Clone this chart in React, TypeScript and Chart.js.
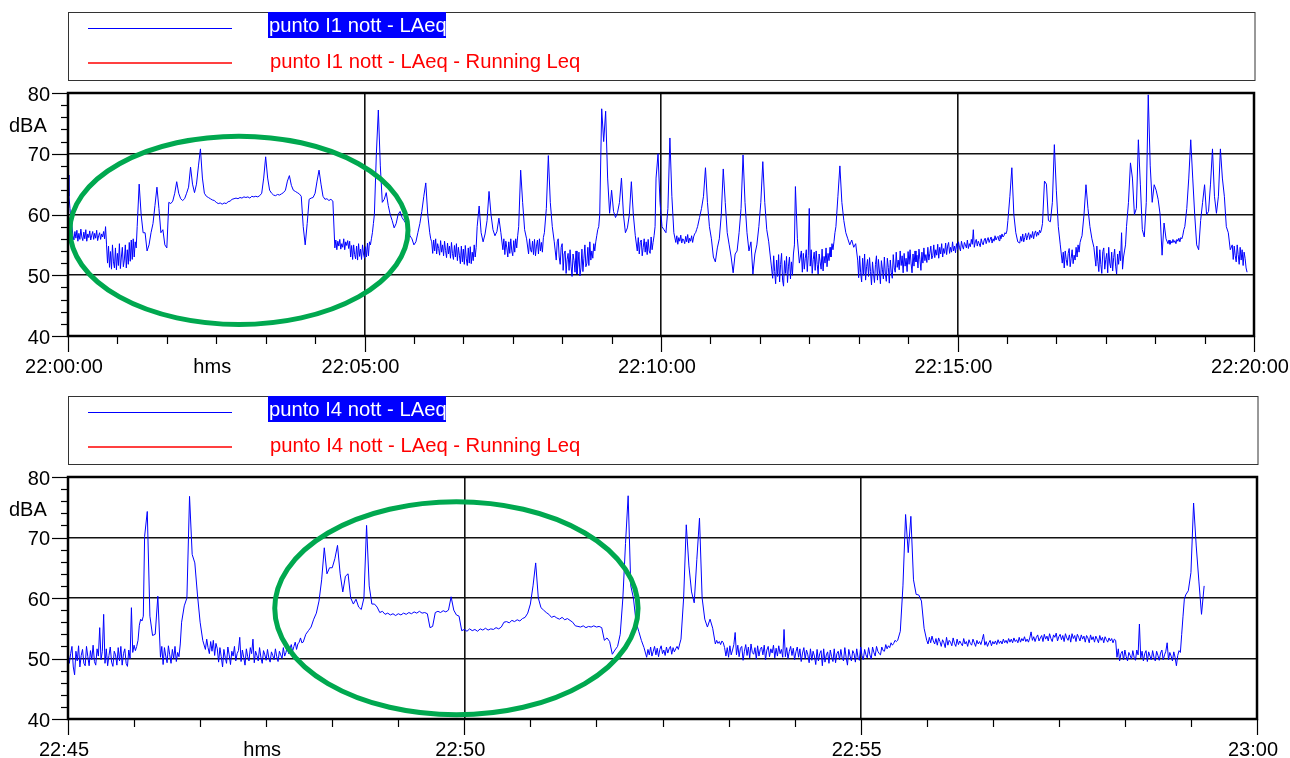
import React, { useEffect, useRef } from 'react';
import { Chart, registerables } from 'chart.js';

Chart.register(...registerables);

// ---------- punto I1 nott - LAeq (dBA), from 22:00:00 ----------
// Each segment is read off the trace; quiet/noisy parts at 1 s, event parts at 2 s.
const I1_S01 = [66.5,63,61,59,58,56.5,55.8,57.2,56.1,57.4,55.6,56.9,55.9,57.6,56.3,55.7,57.1,56,57.5,55.6,56.8,56.2,57.3,55.8,56.6,57.2,55.9,56.9,56.1,57.4,55.7,56.5,57,55.9,56.8,56.3,57.2,56,58,55,52,54.8,51.3,53.9,51,55,52.2,51.2,54.5,50.9,53.6,51.6,55.2,51.1,53,54.6,51.4,52.5,55,51.2,54.2,51.8,55.4,52.3,55.8,52.6,56,53,55.5,54.5];
const I1_S02 = [58,65,60,57,57,54,55,57,58.5,61.5,64.5,61,57,57.5,55,54.5,62,61.8,62.2,63.5,65.4,63.5,62.6,62.3,62.6,63.5,64.5,67.8,65,63.6,65,68,70.8,66,63.5,63,62.8,62.6,62.4,62.3,62,61.8,61.9,61.7,61.9,61.8,62.1,62.2,62.5,62.6,62.7,62.6,62.8,62.7,62.9,62.8,62.9,62.7,63,62.9,63,62.9,63.1,63.5,66,69.5,66,64,63.5,63.2,63.1,63.3,63.2,63.4,63.6,64,65.5,66.4,64.8,64,63.8,63.6,63.4,63,58,55,58.5,62.5,62.7,62.8,63.5,65.5,67.3,65,63,62.5,62.6,62.3,62.5,62.2];
const I1_S03 = [54.5,55.8,54.2,55.6,54.8,55.9,54.3,55.2,54.6,56,54.2,55.5,54.9,55.7,54.4,55.6,53,54.9,52.6,55,53.4,52.7,54.8,52.5,55.2,53.1,54.3,52.6,55,53.5,52.8,54.7,53,55.3,53.2,55.5,55,56,57,58.5];
const I1_S04 = [60,70,77.2,68,62,62.5,63.6,61.5,60,59,57.8,58.5,60,60.5,59.5,59,58.5,58,56.5,56,55,55.5,57,58.5,60.5,63,65.2,60];
const I1_S05 = [57,56,55.5,53.6,55.8,54,56,53.5,55.2,54.4,53.3,55.7,53.8,55,53.2,55.6,54.1,52.9,55.3,53.5,54.8,52.8,55.4,53.6,52.6,54.9,53,55.2,52.4,54.6,53.3,51.9,54.8,52.2,54.3,51.8,54.9,52.7,51.6,54.5,52,54.7,51.9,53.8,52.4,55,53,54.6];
const I1_S06 = [58,61.4,57,55.5,56.8,59,63.8,60,57.5,56.5,57.2,59.4,57];
const I1_S07 = [54.2,56,53.4,55.6,54.5,53,55.5,53.6,56,54,53.2,55.7,53.8,56,54.5,56.5];
const I1_S08 = [58,67.3,62,57.5,56];
const I1_S09 = [53.5,56,54.2,53.8,55.6,53.4,55.9,53.2,54.8,55.8,53.5,56,54,55.4,53.8,56.2];
const I1_S10 = [57,61,69.7,62,58];
const I1_S11 = [55.5,54,52.5,55.5,56,53,51.8,54.6,55.2,50.8,53.5,54,50.3,52.6,53.6,50.8,54.2,51.5,49.8,53.5,52.4,50.5,54,50.2,51.7,53.8,49.9,51.2,54.3,50.6,52.8,55,51.4,52,54.6,51.6,55.5,52.5,54,52.8,55.2,54,55.5,56.5,57.5,58];
const I1_S12 = [60,77.4,72,77,66,60.2,64,60.5,59.5,60.3,62,66,60,57,57.8,60,65.4,60,56.5];
const I1_S13 = [54,56.2,53.5,55.4,55.8,53.2,54.6,56,53.8,55.5,53.4,55.9,54,53.6,56.3,54.2,55.4,56.5,58];
const I1_S14 = [66,70,62,58,57.5,57,61,72.6,63,57];
const I1_S15 = [55.4,56.5,55.1,56.2,55.6,56.6,55.3,56,55.8,55.2,56.4,55.5,56.7,55.3,56.1,55.6,56.5,55.4,56.3,56.8,57,57.5];
const I1_S16 = [58,59.5,61,63,67.7,62,58,56,53,52.2,54.5,56,60,67.5];
const I1_S17 = [62,57,55,53,50.4,53.5,54,57,61,69.8,62,57,54,55.5,50.2,53.5,55,58,62,68.7,62,57.5,55.5,52.5];
const I1_S18 = [49.5,53.2,50.6,48.6,52.5,49.8,53.4,48.9,51.8,53.6,49.2,48.2,52.4,50.3,53.1,48.8,51.5,53,49.4,52.2,50,53.5,55];
const I1_S19 = [64.6,56,52];
const I1_S20 = [54,50.5,53.6,51,52.8,54.2,50.6,53.2,61,51.5,54.2,50.3,52.6,53.8,50.8,54,51.8,50.2,53.5,52.2,51,54.3,50.7,53.1,52,54.5,51.4,53.6,52.4,54.6,53,55.2,54.2,55.5,57];
const I1_S21 = [58,63,68,62,59,57,56,55,55.8,54.6,55.2];
const I1_S22 = [52.5,49.6,53.2,50.4,48.9,52.8,50,53.5,49.2,51.4,52.6,49.8,52.9,50.6,48.4,52.2,50.3,48.8,51.8,53.2,49.2,52.6,50.7,48.6,52.4,51,49.4,53,50.2,49,52.8,51.3,48.7,52.5,50.5,49.5,53.4,51.2,50.5,53.8,51.3,52.5,50.9,54,51.6,53.2,50.4,53.6,51.5,52.8,50.6,53.9,51.8,54.2,52,50.4,53.5,51.5,54,52.2,53.3,51.2,54.3,52.6,50.8,53.8,52,54.5,52.4,53.4,52.1,54.6,52.5,53.6,54.8,52.7,53.2,55,52.9,54.2,53.3,55.1,52.8,54.6,53.5,55.2,53,54.4,53.6,55.3,53.4,54.8,55.4,53.6,54.6,53.8,55.5,54,54.8,53.7,55.2];
const I1_S23 = [54.2,55.5,54.6,54,55.6,54.8,54.3,55.4,55,54.5,55.8,54.4,55.2,54.7,55.9,55.1,57.5,54.6,55.5,55.9,54.8,55.6,55.2,54.7,56,55.3,55,55.8,56.1,55.2,55.8,56.2,55.4,55.9,56.3,55.3,56,55.6,56.5,55.8,56.2,56.4,55.7,56.6,56,56.8,56.3,56.5,57,56.8,57.3];
const I1_S24 = [59,63,67.7,60,57,55.5];
const I1_S25 = [55.3,56.4,55.6,56.8,55.5,56.2,56.9,55.8,56.5,57,55.9,56.7,56.2,57.2,56,56.9,57.3,56.4,57.1,56.6,57.4,57,57.6];
const I1_S26 = [58.5,65.5,65,59,58.8,62,71.5,64,58,55];
const I1_S27 = [52,53.8,51.2,54,52.6,51.6,53.6,54.4,51.4,52.8,54.2,51.9,53.3,52.5,54.6,53,55,53.8,55.4,56];
const I1_S28 = [56.5,60,64.9,61,58,56,54.6];
const I1_S29 = [51.5,54.8,52.3,50.6,54.2,51.8,50.3,53.9,54.5,51,52.6,53.6,50.4,54.6,52,51.2,53.8,50.7,52.9,54.3,51.5,50.2,53.5,51.8,54,52.4,57,51,53,54,55];
const I1_S30 = [58,62,68.5,66,60,61,72.3,65,57.5,56.3,62,79.7,68,62,64.9];
const I1_S31 = [64,62.5,60,53.3,58.6,56];
const I1_S32 = [55.2,55.8,55.1,55.6,55.3,55.9,55.4,55.7,55.2,55.9,55.6,56.1,55.5,56.2,56,56.6,57.5];
const I1_S33 = [58,61,66,72.3,66,60,55,54.2,59,62,64.9,60,60.5,65,70.8,63,60.2,63,70.8,66,63,58,57,54.2];
const I1_S34 = [55,52.6,54.8,53.2,52.2,55,53.4,51.8,54.6,52.5,54.2,51.6,53.8,52.8,51.2,50.5];

// ---------- punto I4 nott - LAeq (dBA), from 22:45:00 ----------
const I4_S01 = [51.5,49.2,50.8,52,48.6,47.3,51.2,49.6,52.1,48.6,50.5,51.5,49.2,48.8,52,50.3,48.8,51.3,49.8,52.2,49.5,48.9,51.6,50.4,55.1,49.8,51.2,57.3,49.2,51.6,48.8,50.5,51.9,49.4,48.7,51.2,50.6,48.9,51.8,49.6,52,48.9,50.8,51.6,49.2,48.7,51.4,50,58.4,51,52.2,51.3,52,53,55.5,56.5,56.2,57];
const I4_S02 = [70.2,74.3,57,53.8,54,60.3];
const I4_S03 = [50.2,52,49,51.8,50.4,49.3,52.1,50.6,49.2,51.5,50,52,49.5,51,50.3,52.4];
const I4_S04 = [56,58.7,60,76.8,67.2,65.8,60.5,56,53];
const I4_S05 = [51.5,53.2,51.8,50.8,52.8,51.2,53,50.5,52.5,51.6,49.4,51.8,50.3,48.6,51.5,50.2,49.2,51.9,50.6,49,51.2,50.4,52,49.6,50.8,51.3,53.5,49.5,51.4,50.2,48.9,51.6,50.3,49.6,51.8,50.8,53.2,49.3,51.2,50.5,49.6,51.8,50.2,49.2,51.3,50.6,49.7,51.5,50.1,49.4,51.1,50.5,49.8,51.6,50.3,49.5,51.2,50.6,50,51.8,50.4,51,52,50.8,51.6,52.3,51.2,52,52.7,51.5,52.4,52.7,53.4,52.6];
const I4_S06 = [52.7,54,54.6,55.2,56.5,57.5,59.5,63,68.3,64,65,65,66.5,68.7,64,61,63.6,64,60,59,59.8,58.5,58.1,60,72,62,59,59,58.5,57.6,57.8,57.3,57.5,57.2,57.4,57.1,57.4,57.2,57.5,57.3,57.6,57.4,57.7,57.5,57.8,57.5,57.6,57.4,55.1,55.3,57.6,57.8,57.6,57.9,57.7,58,60.2,58,57.2,57,54.6];
const I4_S07 = [54.8,54.5,54.9,54.6,54.8,54.5,54.9,54.7,55,54.7,54.9,54.8,55.1,54.9,55.2,56,56.1,55.9,56.3,56.1,56.4,56.2,56.6,56.8,57.5,59,62,65.8,60,58.4,58,57.6,57.3,56.8,57,56.7,56.5,56.8,56.4,56.6,56.3,56,55.4,55.3,55.2,55.4,55.1,55.3,55.2,55.4,55.2,55.3,55.1,53,53.4,52.8,50.7,51.4,52,54];
const I4_S08 = [60,69,76.9,62,60,56,54.5,53,51.8];
const I4_S09 = [50.2,51.5,50.6,51.9,50.4,51.2,52,50.6,51.7,50.3,51.5,52.1,50.8,51.4,50.5,51.9,50.9,51.6,52,50.7,51.8,51.1,51.6,52,51.5,52.4];
const I4_S10 = [53.2,60,72.1,65.3,61,59.2,66.4,73.2,60,56.5,55.2,56.5,55];
const I4_S11 = [52.4,53,52.5,52.8,52.3,52.9,52.6,51.8,50.4,51.8,50.2,52.1,50.6,51.4,52.3,54.3,50.6,52.2,50.3,51.7,52,49.7,51.2,52.3,50.5,51.9,50.1,52.4,51,50.7,51.8,49.9,52.1,50.4,51.5,51.9,50.6,52.2,49.8,51.4,52,50.3,51.6,50.9,52.2,50.1,51.7,50.4,52.1,50.8,51.5,50.2,54.8,50.3,51.8,50,51.2,52,50.5,51.7,49.8,51.1,51.9,50.2,51.6,49.5,50.9,51.8,49.9,51.4,50.6,49.3,51.6,49.7,51.2,50.4,49,51.5,49.6,50.8,51.3,48.8,51.6,49.4,50.6,51.1,49.2,51.4,50.3,49.5,51.6,49.3,50.8,51.2,49.8,51.5,50.1,49.6,51.8,50.2,48.9,51.5,50.4,49.6,51.3,50.8,49.4,51.6,50.2,49.7,51.9,50.5,49.8,51.5,50.6,50.1,51.8,50.6,49.9,51.9,51,50.4,52,51.2,50.8,50.6,51.9,51.3,51.2,52.3,51.6,52.1,51.8,52.6,52.2,52.5,53,52.8];
const I4_S12 = [53,54.5,62,73.8,67.5,73.5,63,60.6,60.5,59.5,55];
const I4_S13 = [53,52.4,53.5,52.6,53.7,52.9,52.4,53.3,52.2,53.4,52.8,52,53.1,52.6,51.8,53.5,52.2,53,52.7,52.1,53.4,52.5,52,53.2,52.3,52.9,52.5,52.1,53.3,52.4,52.8,52,53.1,52.5,52.2,53.2,52.6,52,53,52.4,52.8,52.3,53.1,54,52.2,52.8,52,52.6,53,52.1,52.8,52.4,52.9,52.3,53.1,52.5,52.9,52.4,53.2,52.6,53,52.5,53.3,52.7,53.2,52.6,53.4,52.8,53.1,52.6,53.5,52.7,53.3,52.9,53.6,52.8,53.2,52.7,53.4,54.4,53,53.6,52.8,53.5,53.9,52.9,53.4,53.8,52.8,54,53.2,53.7,52.9,54.1,53.3,52.8,53.9,53.5,54.2,52.9,53.6,54,53.1,53.8,52.8,54.1,53.4,53,53.9,52.7,54.1,53.3,53.8,52.8,54,53.5,52.9,53.9,53.2,53.7,52.7,53.8,53.4,52.6,53.9,53.1,53.6,52.7,53.7,53.2,52.6,53.8,53,53.5,52.6,53.6,53.1,52.7,53.4,52.9,53.3,52.6,53.2,53];
const I4_S14 = [50.2,51.6,49.6,50.8,51.2,49.8,51.4,50.3,49.6,51,50.5,49.9,51.3,50.2,49.7,51.4,50.6,55.7,50.1,51.2,49.6,50.8,51.3,49.5,51.1,50.4,49.8,51.3,50.2,49.6,51.2,50.5,49.7,50.9,51.4,49.8,50.6,51.2,52.6,49.8,51,50.4,49.6,51.1,50.2,48.8,50.5,51.3,51,54,57,59.8];
const I4_S15 = [60.5,61.2,64.2,75.7,68.6,62.8,57.3,62];

// [sampling step in s, readings]
const I1_SEGMENTS: [number, number[]][] = [
  [1, I1_S01], [2, I1_S02], [1, I1_S03], [2, I1_S04], [1, I1_S05], [2, I1_S06], [1, I1_S07],
  [2, I1_S08], [1, I1_S09], [2, I1_S10], [1, I1_S11], [2, I1_S12], [1, I1_S13], [2, I1_S14],
  [1, I1_S15], [2, I1_S16], [2, I1_S17], [1, I1_S18], [2, I1_S19], [1, I1_S20], [2, I1_S21],
  [1, I1_S22], [1, I1_S23], [2, I1_S24], [1, I1_S25], [2, I1_S26], [1, I1_S27], [2, I1_S28],
  [1, I1_S29], [2, I1_S30], [2, I1_S31], [1, I1_S32], [2, I1_S33], [1, I1_S34],
];
const I4_SEGMENTS: [number, number[]][] = [
  [1, I4_S01], [2, I4_S02], [1, I4_S03], [2, I4_S04], [1, I4_S05], [2, I4_S06], [2, I4_S07],
  [2, I4_S08], [1, I4_S09], [2, I4_S10], [1, I4_S11], [2, I4_S12], [1, I4_S13], [1, I4_S14],
  [2, I4_S15],
];

const I1_SERIES = ['punto I1 nott - LAeq', 'punto I1 nott - LAeq - Running Leq'];
const I4_SERIES = ['punto I4 nott - LAeq', 'punto I4 nott - LAeq - Running Leq'];
const I1_TICK_LABELS = ['22:00:00', '22:05:00', '22:10:00', '22:15:00', '22:20:00'];
const I4_TICK_LABELS = ['22:45', '22:50', '22:55', '23:00'];
const Y_TICK_VALUES = [40, 50, 60, 70, 80];
const X_UNIT = 'hms';
const Y_UNIT = 'dBA';

// Green highlight ellipses, in data units (seconds from start, dBA)
const I1_HIGHLIGHT = { t: 173, v: 57.4, rt: 171, rv: 15.5 };
const I4_HIGHLIGHT = { t: 294, v: 58.3, rt: 137.5, rv: 17.6 };

function toPoints(segments: [number, number[]][]) {
  const pts: { x: number; y: number }[] = [];
  let t = 0;
  segments.forEach(([step, vals]) => {
    vals.forEach((v) => {
      pts.push({ x: t, y: v });
      t += step;
    });
  });
  return pts;
}

type Highlight = { t: number; v: number; rt: number; rv: number };
type Panel = {
  segments: [number, number[]][];
  series: string[];
  tickLabels: string[];
  xMax: number;
  highlight: Highlight;
  height: number;
  plotTop: number;
  plotBottom: number;
  plotRight: number;
  legendTop: number;
  legendBottom: number;
};

const PANELS: Panel[] = [
  { segments: I1_SEGMENTS, series: I1_SERIES, tickLabels: I1_TICK_LABELS, xMax: 1200, highlight: I1_HIGHLIGHT,
    height: 379, plotTop: 93, plotBottom: 336, plotRight: 1254, legendTop: 12, legendBottom: 80 },
  { segments: I4_SEGMENTS, series: I4_SERIES, tickLabels: I4_TICK_LABELS, xMax: 900, highlight: I4_HIGHLIGHT,
    height: 379, plotTop: 98, plotBottom: 340, plotRight: 1257, legendTop: 17, legendBottom: 85 },
];

const AXIS_FONT = '20px "Liberation Sans", Arial, sans-serif';
const LEGEND_FONT = '21px "Liberation Sans", Arial, sans-serif';
const LEGEND_SQUEEZE = 0.963;
const BLUE = '#0000ff';
const RED = '#ff0000';

function makeDecor(p: Panel) {
  return {
    id: 'panelDecor',
    afterDraw(chart: any) {
      const ctx: CanvasRenderingContext2D = chart.ctx;
      const { left, right, top, bottom } = chart.chartArea;
      const xs = chart.scales.x;
      const ys = chart.scales.y;
      const seg = (x0: number, y0: number, x1: number, y1: number) => {
        ctx.beginPath();
        ctx.moveTo(x0, y0);
        ctx.lineTo(x1, y1);
        ctx.stroke();
      };
      ctx.save();

      // highlight ellipse
      const h = p.highlight;
      const cx = xs.getPixelForValue(h.t);
      const cy = ys.getPixelForValue(h.v);
      const rx = xs.getPixelForValue(h.t + h.rt) - cx;
      const ry = cy - ys.getPixelForValue(h.v + h.rv);
      ctx.strokeStyle = '#00a84f';
      ctx.lineWidth = 5;
      ctx.beginPath();
      ctx.ellipse(cx, cy, rx, ry, 0, 0, Math.PI * 2);
      ctx.stroke();

      // plot frame
      ctx.strokeStyle = '#000';
      ctx.lineWidth = 2.5;
      ctx.strokeRect(left, top, right - left, bottom - top);

      // y tick marks (every 2 dB, long at every 10 dB)
      ctx.lineWidth = 1.2;
      for (let v = 40; v <= 80; v += 2) {
        const y = Math.round(ys.getPixelForValue(v)) + 0.5;
        const len = v % 10 === 0 ? 16 : 7;
        seg(left - len, y, left, y);
      }
      // x tick marks (every 50 s, long at every 5 min)
      for (let t = 0; t <= p.xMax; t += 50) {
        const x = Math.round(xs.getPixelForValue(t)) + 0.5;
        const len = t % 300 === 0 ? 16 : 8;
        seg(x, bottom, x, bottom + len);
      }

      // axis labels
      ctx.fillStyle = '#000';
      ctx.font = AXIS_FONT;
      ctx.textBaseline = 'alphabetic';
      ctx.textAlign = 'right';
      Y_TICK_VALUES.forEach((v) => ctx.fillText(String(v), left - 18, ys.getPixelForValue(v) + 7.5));
      ctx.textAlign = 'left';
      ctx.fillText(Y_UNIT, 9, top + 38.5);
      ctx.textAlign = 'center';
      p.tickLabels.forEach((s, i) => ctx.fillText(s, xs.getPixelForValue(i * 300) - 4, bottom + 37));
      ctx.fillText(X_UNIT, xs.getPixelForValue(150) - 4, bottom + 37);

      // legend box
      const lt = p.legendTop;
      ctx.strokeStyle = '#333';
      ctx.lineWidth = 1;
      ctx.strokeRect(68.5, lt + 0.5, right + 1 - 68.5, p.legendBottom - lt);
      const ds = chart.data.datasets;
      ctx.strokeStyle = ds[0].borderColor;
      ctx.lineWidth = 1;
      seg(88, lt + 16.5, 232, lt + 16.5);
      ctx.strokeStyle = ds[1].borderColor;
      ctx.lineWidth = 1.5;
      seg(88, lt + 51, 232, lt + 51);
      const hx = 268, hw = 178, hh = 26;
      ctx.fillStyle = BLUE;
      ctx.fillRect(hx, lt, hw, hh);
      ctx.font = LEGEND_FONT;
      ctx.textAlign = 'left';
      ctx.save();
      ctx.beginPath();
      ctx.rect(hx, lt, hw, hh);
      ctx.clip();
      ctx.translate(hx + 1, lt + 20);
      ctx.scale(LEGEND_SQUEEZE, 1);
      ctx.fillStyle = '#fff';
      ctx.fillText(ds[0].label, 0, 0);
      ctx.restore();
      ctx.save();
      ctx.translate(hx + 2, lt + 56);
      ctx.scale(LEGEND_SQUEEZE, 1);
      ctx.fillStyle = ds[1].borderColor;
      ctx.fillText(ds[1].label, 0, 0);
      ctx.restore();

      ctx.restore();
    },
  };
}

function PanelChart({ p }: { p: Panel }) {
  const ref = useRef<HTMLCanvasElement>(null);
  useEffect(() => {
    const canvas = ref.current;
    if (!canvas) return;
    const chart = new Chart(canvas, {
      type: 'line',
      data: {
        datasets: [
          {
            label: p.series[0],
            data: toPoints(p.segments),
            borderColor: BLUE,
            borderWidth: 1,
            borderJoinStyle: 'bevel',
            pointRadius: 0,
            tension: 0,
            fill: false,
          },
          {
            label: p.series[1],
            data: [],
            borderColor: RED,
            borderWidth: 1,
            pointRadius: 0,
            fill: false,
          },
        ],
      },
      options: {
        responsive: false,
        animation: false,
        devicePixelRatio: 1,
        events: [],
        layout: { padding: { left: 0, top: p.plotTop, right: 1290 - p.plotRight, bottom: 0 } },
        plugins: { legend: { display: false }, tooltip: { enabled: false } },
        scales: {
          x: {
            type: 'linear',
            min: 0,
            max: p.xMax,
            ticks: { display: false, stepSize: 300 },
            border: { display: false },
            grid: {
              drawTicks: false,
              lineWidth: 1.6,
              color: (c: any) =>
                c.tick && c.tick.value > 0 && c.tick.value < p.xMax ? '#111' : 'rgba(0,0,0,0)',
            },
            afterFit: (s: any) => {
              s.height = p.height - p.plotBottom;
            },
          },
          y: {
            type: 'linear',
            min: 40,
            max: 80,
            ticks: { display: false, stepSize: 10 },
            border: { display: false },
            grid: {
              drawTicks: false,
              lineWidth: 1.6,
              color: (c: any) =>
                c.tick && c.tick.value > 40 && c.tick.value < 80 ? '#111' : 'rgba(0,0,0,0)',
            },
            afterFit: (s: any) => {
              s.width = 68;
            },
          },
        },
      } as any,
      plugins: [makeDecor(p)],
    });
    return () => chart.destroy();
  }, [p]);
  return (
    <canvas
      ref={ref}
      width={1290}
      height={p.height}
      style={{ display: 'block', width: 1290, height: p.height }}
    />
  );
}

export default function App() {
  return (
    <div style={{ position: 'absolute', left: 0, top: 0, width: 1290, height: 758, background: '#fff' }}>
      {PANELS.map((p, i) => (
        <PanelChart key={i} p={p} />
      ))}
    </div>
  );
}
